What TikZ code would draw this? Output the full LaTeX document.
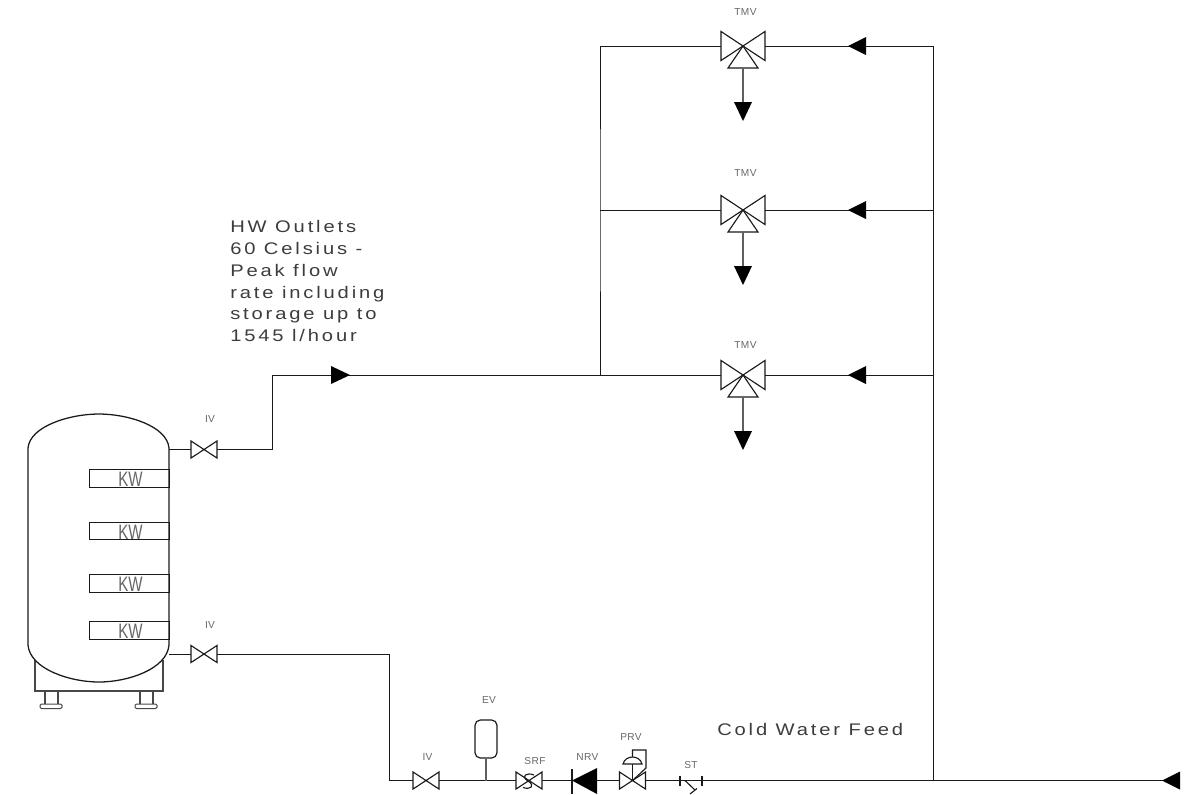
\documentclass[tikz,border=0pt]{standalone}
\usepackage{fontspec}
\setmainfont{Liberation Sans}
\newfontfamily\cadfont[LetterSpace=17,FakeStretch=1.2]{Liberation Sans}
\newfontfamily\smallcad[LetterSpace=4]{Liberation Sans}
\newfontfamily\kwfont[FakeStretch=0.72]{Liberation Sans}
\definecolor{pipe}{HTML}{1A1A1A}
\definecolor{txt}{HTML}{3C3C3C}
\definecolor{lbl}{HTML}{666666}
\tikzset{
  pipeline/.style={draw=pipe,line width=0.75pt},
  stemline/.style={draw=pipe!70,line width=1pt},
  vbody/.style={inner sep=0pt,outer sep=0pt,minimum width=19.5pt,minimum height=12.8pt},
  tmvbody/.style={inner sep=0pt,outer sep=0pt,minimum width=33pt,minimum height=21.8pt},
  vline/.style={draw=pipe,line width=0.85pt,line join=miter},
  tag/.style={text=lbl,inner sep=0pt,font=\smallcad\fontsize{7.6}{9}\selectfont},
  note/.style={text=txt,inner sep=0pt,anchor=base west,font=\cadfont\fontsize{12.6}{15}\selectfont},
  kwtext/.style={text=lbl,inner sep=0pt,font=\kwfont\fontsize{15.7}{16}\selectfont},
  head/.style={fill=black,draw=none},
  kwbox/.style={draw=pipe,line width=0.75pt,inner sep=0pt,outer sep=0pt,minimum width=60pt,minimum height=13pt,anchor=west},
}
\newcommand{\bowvalve}[3]{%
  \node[vbody] (#1) at (#2,#3) {};
  \draw[vline] (#1.south west) -- (#1.north east) -- (#1.south east) -- (#1.north west) -- cycle;}
\newcommand{\tmvvalve}[3]{%
  \node[tmvbody] (#1) at (#2,#3) {};
  \draw[vline] (#1.south west) -- (#1.north east) -- (#1.south east) -- (#1.north west) -- cycle;
  \draw[vline] (#1.center) -- ++(15,22) -- ++(-30,0) -- cycle;
  \coordinate (#1s) at (#2,#3+22);
  \coordinate (#1e) at (#2,#3+56);
  \draw[stemline] (#1s) -- (#1e);
  \fill[head] (#2-9,#3+56) -- (#2+9,#3+56) -- (#2,#3+75) -- cycle;}
\newcommand{\lefthead}[2]{\fill[head] (#1,#2) -- (#1+18,#2-9) -- (#1+18,#2+9) -- cycle;}
\begin{document}
\begin{tikzpicture}[x=0.75pt,y=-0.75pt]
\useasboundingbox (0,0) rectangle (1198,794);

% tank
\draw[pipeline,line width=1pt,draw=pipe!80] (35,660) -- (35,691) -- (163,691) -- (163,660);
\draw[pipeline,line width=1pt,draw=pipe!80] (45,691) -- (45,704) (58,691) -- (58,704) (140,691) -- (140,704) (153,691) -- (153,704);
\draw[pipeline,rounded corners=1pt,draw=pipe!80] (40,704) rectangle (62,708.5);
\draw[pipeline,rounded corners=1pt,draw=pipe!80] (135,704) rectangle (157,708.5);
\draw[pipeline,fill=white,line width=0.95pt] (28,448) .. controls (30,426) and (70,414) .. (99,414) .. controls (128,414) and (167,426) .. (169,448) -- (169,645) .. controls (167,669) and (128,682) .. (99,682) .. controls (70,682) and (30,669) .. (28,645) -- cycle;
\node[kwbox] (kw1) at (89,478.5) {};
\node[kwbox] (kw2) at (89,531) {};
\node[kwbox] (kw3) at (89,583.5) {};
\node[kwbox] (kw4) at (89,630.5) {};
\node[kwtext] (kwt1) at (130.5,479) {KW};
\node[kwtext] (kwt2) at (130.5,532) {KW};
\node[kwtext] (kwt3) at (130.5,584) {KW};
\node[kwtext] (kwt4) at (130.5,631) {KW};
\coordinate (tankout) at (169,449.5);
\coordinate (tankin) at (169,654);

% valves
\bowvalve{ivtop}{204}{449.5}
\bowvalve{ivbot}{204}{654}
\bowvalve{ivfeed}{426}{780.5}
\bowvalve{srf}{529}{780.5}
\bowvalve{prv}{632.5}{780.5}
\tmvvalve{tmvA}{743}{46}
\tmvvalve{tmvB}{743}{210}
\tmvvalve{tmvC}{743}{375}

% junction points
\coordinate (bendA) at (272,449.5);
\coordinate (bendB) at (272,375);
\coordinate (jmain) at (600,375);
\coordinate (jmid) at (600,210);
\coordinate (jtop) at (600,46);
\coordinate (rtop) at (933,46);
\coordinate (rmid) at (933,210);
\coordinate (rlow) at (933,375);
\coordinate (rbot) at (933,780.5);
\coordinate (feedend) at (1180,780.5);
\coordinate (bendC) at (389,654);
\coordinate (bendD) at (389,780.5);
\coordinate (evj) at (486,780.5);
\node[draw=pipe,line width=0.9pt,rounded corners=4pt,inner sep=0pt,minimum width=16.5pt,minimum height=28.5pt] (ev) at (486,739) {};

% NRV
\coordinate (nrvtip) at (572,780.5);
\coordinate (nrvbase) at (597,780.5);
\fill[head] (nrvtip) -- (597,768) -- (597,794) -- cycle;
\draw[vline] (572,769) -- (572,794);

% strainer
\coordinate (sta) at (680,780.5);
\coordinate (stb) at (702,780.5);
\draw[vline] (680,775.5) -- (680,785.5);
\draw[vline] (702,775.5) -- (702,785.5);
\coordinate (stc) at (685,780.5);
\draw[vline] (stc) -- (695,790) (690,794) -- (697,788.5);

% pipes
\draw[pipeline] (tankout) -- (ivtop.west);
\draw[pipeline] (ivtop.east) -- (bendA) -- (bendB) -- (tmvC.west);
\draw[pipeline] (jmain) -- (jmid) -- (jtop) -- (tmvA.west);
\draw[pipeline] (jmid) -- (tmvB.west);
\draw[pipeline] (tmvA.east) -- (rtop) -- (rmid) -- (rlow) -- (rbot);
\draw[pipeline] (tmvB.east) -- (rmid);
\draw[pipeline] (tmvC.east) -- (rlow);
\draw[pipeline] (tankin) -- (ivbot.west);
\draw[pipeline] (ivbot.east) -- (bendC) -- (bendD) -- (ivfeed.west);
\draw[pipeline] (ivfeed.east) -- (srf.west);
\draw[stemline,line width=0.9pt] (ev.south) -- (evj);
\draw[pipeline] (srf.east) -- (nrvtip);
\draw[pipeline] (nrvbase) -- (prv.west);
\draw[pipeline] (prv.east) -- (sta);
\draw[pipeline] (sta) -- (stb);
\draw[pipeline] (stb) -- (feedend);

% SRF inner S
\draw[vline] (534,775) .. controls (527,772) and (520,776) .. (528,781) .. controls (536,786) and (530,790) .. (523,787.5);

% PRV actuator
\coordinate (prvtop) at (632.5,750);
\draw[vline] (prv.center) -- (632.5,764);
\draw[vline] (623,764) -- (642,764) .. controls (641,759) and (636,757) .. (632.5,757) .. controls (629,757) and (624,759) .. (623,764) -- cycle;
\draw[vline] (632.5,757) -- (prvtop) -- (646,750) -- (646,768) -- (prv.center);

% arrowheads
\fill[head] (331,366) -- (350,375) -- (331,384) -- cycle;
\lefthead{848}{46}
\lefthead{848}{210}
\lefthead{848}{375}
\lefthead{1162}{780.5}

% labels
\node[tag] (l1) at (745.5,12.5) {TMV};
\node[tag] (l2) at (745.5,173) {TMV};
\node[tag] (l3) at (745.5,345) {TMV};
\node[tag] (l4) at (210,419.5) {IV};
\node[tag] (l5) at (210,625) {IV};
\node[tag] (l6) at (427.5,757) {IV};
\node[tag] (l7) at (489,700) {EV};
\node[tag] (l8) at (535,761) {SRF};
\node[tag] (l9) at (587.5,757) {NRV};
\node[tag] (l10) at (631,737) {PRV};
\node[tag] (l11) at (691,765) {ST};
\node[note] (n1) at (230,232) {HW Outlets};
\node[note] (n2) at (230,254) {60 Celsius -};
\node[note] (n3) at (230,276) {Peak flow};
\node[note] (n4) at (230,298) {rate including};
\node[note] (n5) at (230,319) {storage up to};
\node[note] (n6) at (230,341) {1545 l/hour};
\node[note] (n7) at (717,735) {Cold Water Feed};
\end{tikzpicture}
\end{document}
